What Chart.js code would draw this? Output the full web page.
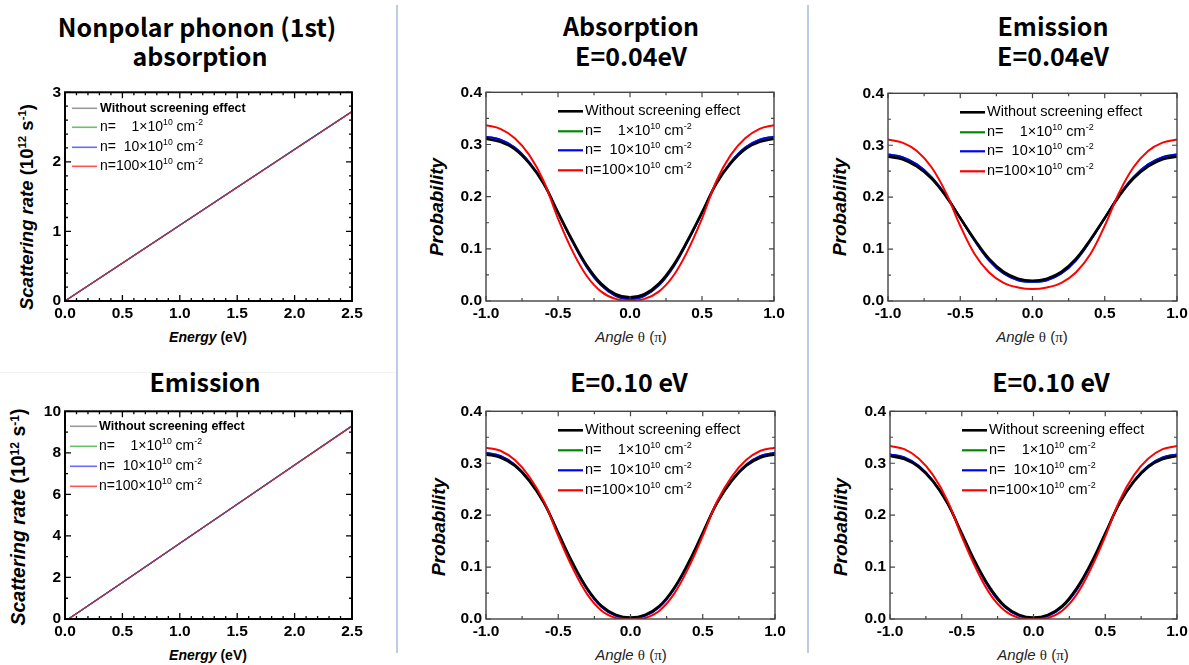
<!DOCTYPE html>
<html>
<head>
<meta charset="utf-8">
<script src="https://cdn.jsdelivr.net/npm/chart.js@4.4.1/dist/chart.umd.min.js"></script>
<style>
  html,body{margin:0;padding:0;background:#fff;}
  body{width:1189px;height:665px;overflow:hidden;position:relative;font-family:"Liberation Sans",Arial,sans-serif;color:#000;}
  canvas{position:absolute;}
  .t{position:absolute;font-family:"Noto Sans CJK KR","Noto Sans",sans-serif;font-weight:700;font-size:25px;white-space:nowrap;transform:translate(-50%,-50%);line-height:1;}
  .yl{position:absolute;white-space:nowrap;transform:translate(-50%,-50%) rotate(-90deg);font-weight:700;line-height:1;}
  .xl{position:absolute;white-space:nowrap;transform:translate(-50%,-50%);line-height:1;}
  .yl sup,.xl sup{font-size:62%;vertical-align:0.55em;line-height:0;}
  .sym{font-family:"Liberation Serif","Times New Roman",serif;font-style:normal;}
  .dv{position:absolute;background:#bccbe6;}
</style>
</head>
<body>
<div class="dv" style="left:396px;top:5px;width:2px;height:648px;"></div>
<div class="dv" style="left:807px;top:5px;width:2px;height:648px;"></div>
<div style="position:absolute;left:0;top:372px;width:396px;height:1px;background:#f1f1f1;"></div>

<div class="t" style="left:197px;top:26px;">Nonpolar phonon (1st)</div>
<div class="t" style="left:200px;top:55px;">absorption</div>
<div class="t" style="left:631px;top:25px;">Absorption</div>
<div class="t" style="left:631px;top:55px;">E=0.04eV</div>
<div class="t" style="left:1053px;top:25px;">Emission</div>
<div class="t" style="left:1053px;top:55px;">E=0.04eV</div>
<div class="t" style="left:205px;top:381px;">Emission</div>
<div class="t" style="left:629px;top:381px;">E=0.10 eV</div>
<div class="t" style="left:1051px;top:381px;">E=0.10 eV</div>

<div class="yl" style="left:27px;top:207px;font-size:18.5px;"><i>Scattering rate</i> (10<sup>12</sup> s<sup>-1</sup>)</div>
<div class="yl" style="left:19px;top:517px;font-size:19.5px;"><i>Scattering rate</i> (10<sup>12</sup> s<sup>-1</sup>)</div>
<div class="yl" style="left:436px;top:207px;font-size:19px;"><i>Probability</i></div>
<div class="yl" style="left:839px;top:207px;font-size:19px;"><i>Probability</i></div>
<div class="yl" style="left:438px;top:527px;font-size:19px;"><i>Probability</i></div>
<div class="yl" style="left:840px;top:527px;font-size:19px;"><i>Probability</i></div>

<div class="xl" style="left:208px;top:337px;font-size:14px;font-weight:700;"><i>Energy</i> (eV)</div>
<div class="xl" style="left:208px;top:655px;font-size:14px;font-weight:700;"><i>Energy</i> (eV)</div>
<div class="xl" style="left:631px;top:337px;font-size:15px;color:#222;"><i>Angle</i> <span class="sym">θ</span> (<span class="sym">π</span>)</div>
<div class="xl" style="left:1032px;top:337px;font-size:15px;color:#222;"><i>Angle</i> <span class="sym">θ</span> (<span class="sym">π</span>)</div>
<div class="xl" style="left:631px;top:655px;font-size:15px;color:#222;"><i>Angle</i> <span class="sym">θ</span> (<span class="sym">π</span>)</div>
<div class="xl" style="left:1033px;top:655px;font-size:15px;color:#222;"><i>Angle</i> <span class="sym">θ</span> (<span class="sym">π</span>)</div>

<canvas id="c1"></canvas>
<canvas id="c2"></canvas>
<canvas id="c3"></canvas>
<canvas id="c4"></canvas>
<canvas id="c5"></canvas>
<canvas id="c6"></canvas>

<script>
// ---------------- DATA ----------------
const legendLabels = ['Without screening effect', 'n=    1×10{10} cm{-2}', 'n=  10×10{10} cm{-2}', 'n=100×10{10} cm{-2}'];

// Nonpolar phonon absorption: scattering rate (1e12 /s) vs energy (eV)
const absEnergy = [0.0, 0.5, 1.0, 1.5, 2.0, 2.5];
const absBlack  = [0.0, 0.545, 1.090, 1.635, 2.180, 2.725];
const absGreen  = [0.0, 0.545, 1.090, 1.635, 2.180, 2.725];
const absBlue   = [0.0, 0.544, 1.089, 1.634, 2.179, 2.723];
const absRed    = [0.0, 0.543, 1.087, 1.632, 2.176, 2.720];

// Nonpolar phonon emission
const emiEnergy = [0.03, 0.5, 1.0, 1.5, 2.0, 2.5];
const emiBlack  = [0.0, 1.76, 3.65, 5.53, 7.42, 9.30];
const emiGreen  = [0.0, 1.76, 3.65, 5.53, 7.42, 9.30];
const emiBlue   = [0.0, 1.76, 3.64, 5.53, 7.41, 9.29];
const emiRed    = [0.0, 1.75, 3.64, 5.52, 7.40, 9.28];

// Angle theta (units of pi)
const angle = [-1.0,-0.9,-0.8,-0.7,-0.6,-0.5,-0.4,-0.3,-0.2,-0.1,0.0,0.1,0.2,0.3,0.4,0.5,0.6,0.7,0.8,0.9,1.0];

// Absorption, E = 0.04 eV
const a04Black = [0.311,0.305,0.291,0.264,0.225,0.170,0.116,0.068,0.033,0.013,0.007,0.013,0.033,0.068,0.116,0.170,0.225,0.264,0.291,0.305,0.311];
const a04Green = [0.315,0.309,0.294,0.266,0.226,0.169,0.114,0.065,0.030,0.010,0.004,0.010,0.030,0.065,0.114,0.169,0.226,0.266,0.294,0.309,0.315];
const a04Blue  = [0.315,0.309,0.294,0.266,0.226,0.169,0.114,0.065,0.030,0.010,0.004,0.010,0.030,0.065,0.114,0.169,0.226,0.266,0.294,0.309,0.315];
const a04Red   = [0.337,0.330,0.312,0.280,0.230,0.158,0.096,0.048,0.018,0.004,0.001,0.004,0.018,0.048,0.096,0.158,0.230,0.280,0.312,0.330,0.337];

// Emission, E = 0.04 eV
const e04Black = [0.278,0.273,0.259,0.236,0.202,0.160,0.118,0.081,0.056,0.043,0.039,0.043,0.056,0.081,0.118,0.160,0.202,0.236,0.259,0.273,0.278];
const e04Green = [0.282,0.277,0.263,0.239,0.204,0.160,0.116,0.078,0.053,0.040,0.037,0.040,0.053,0.078,0.116,0.160,0.204,0.239,0.263,0.277,0.282];
const e04Blue  = [0.282,0.277,0.263,0.239,0.204,0.160,0.116,0.078,0.053,0.040,0.037,0.040,0.053,0.078,0.116,0.160,0.204,0.239,0.263,0.277,0.282];
const e04Red   = [0.311,0.305,0.289,0.258,0.209,0.145,0.090,0.055,0.035,0.026,0.023,0.026,0.035,0.055,0.090,0.145,0.209,0.258,0.289,0.305,0.311];

// Absorption, E = 0.10 eV
const a10Black = [0.317,0.311,0.295,0.266,0.224,0.166,0.108,0.059,0.025,0.008,0.003,0.008,0.025,0.059,0.108,0.166,0.224,0.266,0.295,0.311,0.317];
const a10Green = [0.320,0.314,0.297,0.267,0.225,0.165,0.106,0.057,0.023,0.006,0.002,0.006,0.023,0.057,0.106,0.165,0.225,0.267,0.297,0.314,0.320];
const a10Blue  = [0.320,0.314,0.297,0.267,0.225,0.165,0.106,0.057,0.023,0.006,0.002,0.006,0.023,0.057,0.106,0.165,0.225,0.267,0.297,0.314,0.320];
const a10Red   = [0.330,0.324,0.306,0.274,0.227,0.160,0.098,0.048,0.016,0.002,0.000,0.002,0.016,0.048,0.098,0.160,0.227,0.274,0.306,0.324,0.330];

// Emission, E = 0.10 eV
const e10Black = [0.314,0.308,0.293,0.265,0.223,0.165,0.107,0.059,0.025,0.008,0.003,0.008,0.025,0.059,0.107,0.165,0.223,0.265,0.293,0.308,0.314];
const e10Green = [0.317,0.311,0.295,0.266,0.224,0.164,0.105,0.056,0.023,0.006,0.002,0.006,0.023,0.056,0.105,0.164,0.224,0.266,0.295,0.311,0.317];
const e10Blue  = [0.317,0.311,0.295,0.266,0.224,0.164,0.105,0.056,0.023,0.006,0.002,0.006,0.023,0.056,0.105,0.164,0.224,0.266,0.295,0.311,0.317];
const e10Red   = [0.333,0.327,0.309,0.277,0.228,0.159,0.097,0.047,0.016,0.002,0.000,0.002,0.016,0.047,0.097,0.159,0.228,0.277,0.309,0.327,0.333];

// ---------------- DRAWING ----------------
const FONT = "'Liberation Sans', Arial, sans-serif";
Chart.defaults.font.family = FONT;

function drawRich(ctx, x, y, label, size, bold) {
  const parts = label.split(/(\{[^}]*\})/).filter(s => s.length);
  ctx.textBaseline = 'middle';
  ctx.textAlign = 'left';
  ctx.fillStyle = '#000';
  parts.forEach(p => {
    const sup = p[0] === '{';
    const t = sup ? p.slice(1, -1) : p;
    const fs = sup ? size * 0.62 : size;
    ctx.font = (bold ? 'bold ' : '') + fs + 'px ' + FONT;
    ctx.fillText(t, x, sup ? y - size * 0.36 : y);
    x += ctx.measureText(t).width;
  });
}

const framePlugin = {
  id: 'frame',
  afterDatasetsDraw(chart, args, o) {
    const {ctx, chartArea: a, scales: {x, y}} = chart;
    ctx.save();
    ctx.strokeStyle = o.color;
    ctx.lineWidth = o.tickWidth;
    const nx = Math.round((x.max - x.min) / o.xMinor);
    for (let k = 0; k <= nx; k++) {
      const v = x.min + k * o.xMinor;
      const r = (v - x.min) / o.xMajor;
      const len = Math.abs(r - Math.round(r)) < 1e-6 ? o.major : o.minor;
      const px = x.getPixelForValue(v);
      ctx.beginPath();
      ctx.moveTo(px, a.bottom); ctx.lineTo(px, a.bottom - len);
      ctx.moveTo(px, a.top); ctx.lineTo(px, a.top + len);
      ctx.stroke();
    }
    const ny = Math.round((y.max - y.min) / o.yMinor);
    for (let k = 0; k <= ny; k++) {
      const v = y.min + k * o.yMinor;
      const r = (v - y.min) / o.yMajor;
      const len = Math.abs(r - Math.round(r)) < 1e-6 ? o.major : o.minor;
      const py = y.getPixelForValue(v);
      ctx.beginPath();
      ctx.moveTo(a.left, py); ctx.lineTo(a.left + len, py);
      ctx.moveTo(a.right, py); ctx.lineTo(a.right - len, py);
      ctx.stroke();
    }
    ctx.lineWidth = o.width;
    ctx.strokeRect(a.left, a.top, a.right - a.left, a.bottom - a.top);
    ctx.restore();
  }
};

const legendPlugin = {
  id: 'richLegend',
  afterDraw(chart, args, o) {
    const {ctx, chartArea: a} = chart;
    ctx.save();
    o.items.forEach((it, i) => {
      const y = a.top + o.rows[i];
      ctx.strokeStyle = it.color;
      ctx.lineWidth = it.width;
      ctx.beginPath();
      ctx.moveTo(a.left + o.x0, y);
      ctx.lineTo(a.left + o.x1, y);
      ctx.stroke();
      drawRich(ctx, a.left + o.tx, y, legendLabels[i], it.size, it.bold);
    });
    ctx.restore();
  }
};

const PADL = 50, PADT = 10, PADR = 18, PADB = 26;

function makePanel(id, box, cfg) {
  const cv = document.getElementById(id);
  const W = box.R - box.L + PADL + PADR;
  const H = box.B - box.T + PADT + PADB;
  cv.width = W; cv.height = H;
  cv.style.left = (box.L - PADL) + 'px';
  cv.style.top = (box.T - PADT) + 'px';
  cv.style.width = W + 'px';
  cv.style.height = H + 'px';
  const zip = (xs, ys) => xs.map((v, i) => ({x: v, y: ys[i]}));
  const datasets = cfg.series.map(s => ({
    data: zip(cfg.xs, s.ys),
    borderColor: s.color,
    borderWidth: s.width,
    pointRadius: 0,
    fill: false,
    order: s.order,
    cubicInterpolationMode: 'default',
    tension: cfg.smooth ? 0.4 : 0,
    borderJoinStyle: 'round'
  }));
  const tickFont = {family: FONT, size: 15.5, weight: 'bold'};
  return new Chart(cv, {
    type: 'line',
    data: {datasets},
    options: {
      responsive: false,
      animation: false,
      devicePixelRatio: 1,
      layout: {padding: {left: 0, top: PADT, right: PADR, bottom: 0}},
      plugins: {
        legend: {display: false},
        tooltip: {enabled: false},
        frame: cfg.frame,
        richLegend: cfg.legend
      },
      scales: {
        x: {
          type: 'linear', min: cfg.xMin, max: cfg.xMax,
          afterFit: s => { s.height = PADB; },
          grid: {display: false, drawTicks: false},
          border: {display: false},
          ticks: {stepSize: cfg.frame.xMajor, autoSkip: false, maxRotation: 0, padding: 3,
                  color: '#000', font: tickFont, callback: v => v.toFixed(1)}
        },
        y: {
          type: 'linear', min: cfg.yMin, max: cfg.yMax,
          afterFit: s => { s.width = PADL; },
          grid: {display: false, drawTicks: false},
          border: {display: false},
          ticks: {stepSize: cfg.frame.yMajor, autoSkip: false, padding: 4,
                  color: '#000', font: tickFont, callback: cfg.yFmt}
        }
      }
    },
    plugins: [framePlugin, legendPlugin]
  });
}

// Rate panels
function rateCfg(xs, blk, grn, blu, red, yMax, yMajor, yMinor, rows, x0, x1, tx) {
  return {
    xs, xMin: 0, xMax: 2.5, yMin: 0, yMax, smooth: false,
    yFmt: v => String(Math.round(v)),
    series: [
      {ys: blk, color: '#222', width: 1.2, order: 3},
      {ys: grn, color: '#2a2', width: 1.2, order: 2},
      {ys: blu, color: '#22f', width: 1.2, order: 1},
      {ys: red, color: '#c33', width: 1.1, order: 0}
    ],
    frame: {color: '#000', width: 2, tickWidth: 1.3, major: 6, minor: 3,
            xMajor: 0.5, xMinor: 0.1, yMajor, yMinor},
    legend: {x0, x1, tx, rows, items: [
      {color: '#9a9a9a', width: 1.6, size: 12.5, bold: true},
      {color: '#66c266', width: 1.6, size: 14, bold: false},
      {color: '#6a6aff', width: 1.6, size: 14, bold: false},
      {color: '#ff5555', width: 1.6, size: 14, bold: false}
    ]}
  };
}

function probCfg(blk, grn, blu, red, rows) {
  return {
    xs: angle, xMin: -1, xMax: 1, yMin: 0, yMax: 0.4, smooth: true,
    yFmt: v => v.toFixed(1),
    series: [
      {ys: blk, color: '#000', width: 2.6, order: 1},
      {ys: grn, color: '#008a00', width: 2, order: 3},
      {ys: blu, color: '#0000ff', width: 2, order: 2},
      {ys: red, color: '#ff0000', width: 2, order: 0}
    ],
    frame: {color: '#444', width: 1.4, tickWidth: 1.2, major: 5, minor: 3,
            xMajor: 0.5, xMinor: 0.25, yMajor: 0.1, yMinor: 0.05},
    legend: {x0: 72, x1: 97, tx: 99, rows, items: [
      {color: '#000', width: 2.6, size: 14.5, bold: false},
      {color: '#008a00', width: 2.2, size: 14.5, bold: false},
      {color: '#0000ff', width: 2.2, size: 14.5, bold: false},
      {color: '#ff0000', width: 2.2, size: 14.5, bold: false}
    ]}
  };
}

makePanel('c1', {L: 65, T: 89, R: 352, B: 301},
  rateCfg(absEnergy, absBlack, absGreen, absBlue, absRed, 3, 1, 0.2, [16, 35, 55, 74], 7, 32, 35));
makePanel('c4', {L: 65, T: 408, R: 352, B: 619},
  rateCfg(emiEnergy, emiBlack, emiGreen, emiBlue, emiRed, 10, 2, 1, [15, 35, 55, 75], 5, 32, 34));
makePanel('c2', {L: 486, T: 89, R: 774, B: 301}, probCfg(a04Black, a04Green, a04Blue, a04Red, [19, 39, 58, 78]));
makePanel('c3', {L: 888, T: 90, R: 1177, B: 301}, probCfg(e04Black, e04Green, e04Blue, e04Red, [19, 39, 58, 78]));
makePanel('c5', {L: 486, T: 408, R: 775, B: 619}, probCfg(a10Black, a10Green, a10Blue, a10Red, [19, 39, 59, 79]));
makePanel('c6', {L: 890, T: 408, R: 1177, B: 619}, probCfg(e10Black, e10Green, e10Blue, e10Red, [19, 39, 59, 79]));
</script>
</body>
</html>
